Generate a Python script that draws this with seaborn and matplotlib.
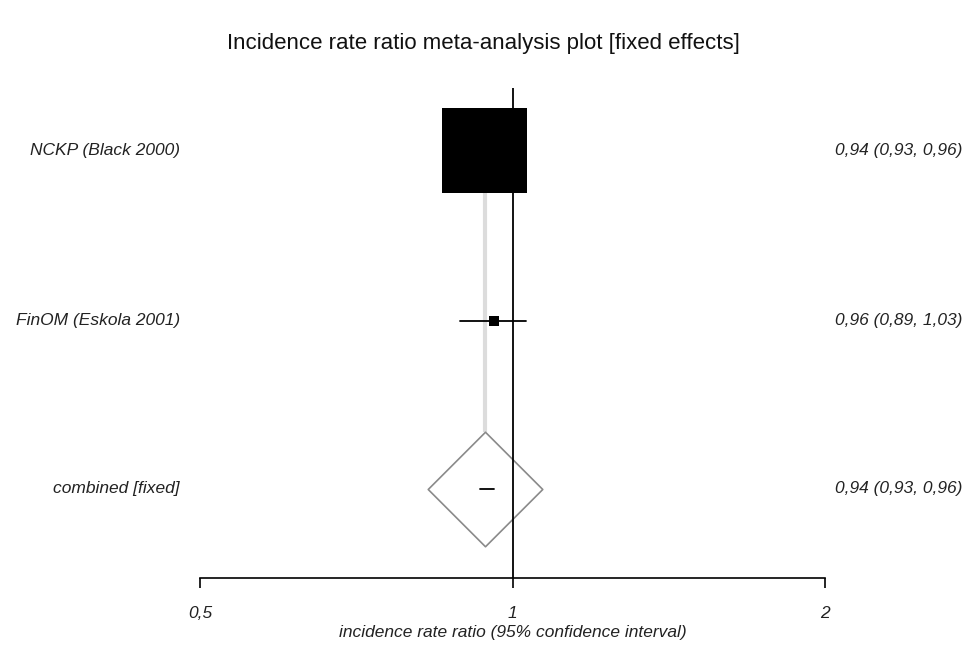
import numpy as np
import pandas as pd
import matplotlib
matplotlib.use("Agg")
import matplotlib.pyplot as plt
import matplotlib.transforms as mtransforms
import seaborn as sns

# Study estimates (incidence rate ratio with 95% CI)
studies = ["NCKP (Black 2000)", "FinOM (Eskola 2001)"]
irr = [0.94, 0.96]
ci_low = [0.93, 0.89]
ci_high = [0.96, 1.03]

# Pooled fixed-effect estimate
pooled_label = "combined [fixed]"
pooled_irr = 0.94
pooled_low = 0.93
pooled_high = 0.96

tick_values = [0.5, 1, 2]
tick_labels = ["0,5", "1", "2"]


def fmt(v):
    return f"{v:.2f}".replace(".", ",")


sns.set_theme(style="white")
plt.rcParams["font.family"] = ["Liberation Sans", "DejaVu Sans"]

fig = plt.figure(figsize=(9.66, 6.55), dpi=100)
ax = fig.add_axes([200 / 966, 77 / 655, 625 / 966, 490 / 655])

row_pos = [2.015, 1.0]
pooled_pos = 0.0

# inverse-variance weights from the CI widths
se = (np.log(ci_high) - np.log(ci_low)) / (2 * 1.96)
weight = 1 / se ** 2
df = pd.DataFrame({"study": studies, "irr": irr, "row": row_pos, "weight": weight})

ax.set_xscale("log")
ax.set_xlim(0.5, 2)
ax.set_ylim(-0.530, 2.387)

# pooled estimate guide line
ax.plot([pooled_irr, pooled_irr], [pooled_pos + 0.34, row_pos[0]],
        color="#dcdcdc", lw=3, zorder=1, solid_capstyle="butt")

# confidence intervals
for lo, hi, y in zip(ci_low, ci_high, row_pos):
    ax.plot([lo, hi], [y, y], color="black", lw=1.3, zorder=2)

# weighted boxes
sns.scatterplot(data=df, x="irr", y="row", size="weight", sizes=(45, 3745),
                marker="s", color="black", edgecolor="black", linewidth=0,
                legend=False, ax=ax, zorder=3)

# pooled diamond
ax.scatter([pooled_irr], [pooled_pos], marker="D", s=3400, facecolor="white",
           edgecolor="#8a8a8a", linewidth=1.2, zorder=4)
ax.plot([pooled_low, pooled_high], [pooled_pos, pooled_pos], color="black",
        lw=1.3, zorder=5)

# line of no effect
ax.axvline(1, color="black", lw=1.3, zorder=6)

for s in ["left", "right", "top"]:
    ax.spines[s].set_visible(False)
ax.spines["bottom"].set_color("black")
ax.spines["bottom"].set_linewidth(1.2)
ax.set_yticks([])
ax.set_ylabel("")
ax.set_xticks(tick_values)
ax.set_xticklabels(tick_labels)
ax.xaxis.set_minor_locator(matplotlib.ticker.NullLocator())
ax.tick_params(axis="x", which="major", direction="out", length=7, width=1.2,
               color="black", bottom=True, pad=13, labelsize=12.5)
for lab in ax.get_xticklabels():
    lab.set_fontstyle("italic")
    lab.set_color("#222222")

ax.set_xlabel("incidence rate ratio (95% confidence interval)", fontsize=12.5,
              fontstyle="italic", color="#222222", labelpad=3)

# study labels and estimates
trans = mtransforms.blended_transform_factory(fig.transFigure, ax.transData)
labels = studies + [pooled_label]
ests = [f"{fmt(e)} ({fmt(l)}, {fmt(h)})" for e, l, h in zip(irr, ci_low, ci_high)]
ests.append(f"{fmt(pooled_irr)} ({fmt(pooled_low)}, {fmt(pooled_high)})")
for lab, est, y in zip(labels, ests, row_pos + [pooled_pos]):
    ax.text(180 / 966, y, lab, transform=trans, ha="right", va="center",
            fontsize=12.5, fontstyle="italic", color="#222222")
    ax.text(962 / 966, y, est, transform=trans, ha="right", va="center",
            fontsize=12.5, fontstyle="italic", color="#222222")

fig.text(483 / 966, 1 - 44 / 655,
         "Incidence rate ratio meta-analysis plot [fixed effects]",
         ha="center", va="center", fontsize=16, color="#111111")

fig.savefig("out.png", dpi=100, facecolor="white")
